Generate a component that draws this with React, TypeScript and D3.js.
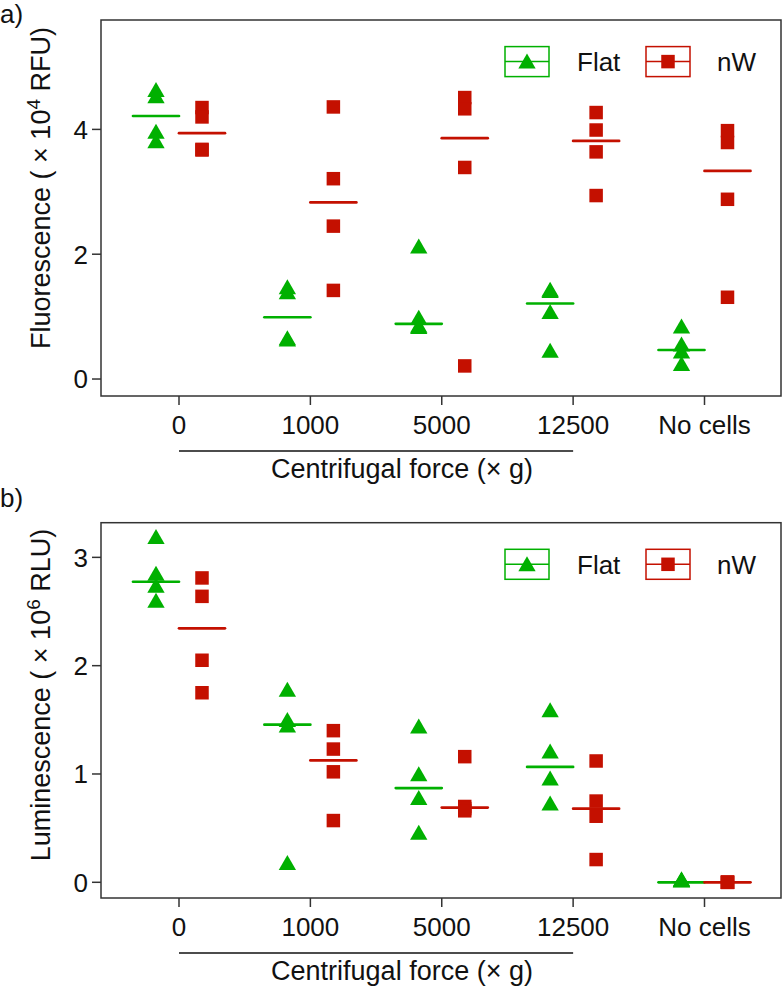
import React from "react";
import * as d3 from "d3";

const categories = ["0", "1000", "5000", "12500", "No cells"];
const seriesNames = ["Flat", "nW"];

// Panel a: Fluorescence (x10^4 RFU), 4 replicates per category
const flatFluor = [
  [4.6, 4.5, 3.93, 3.78],
  [1.44, 1.36, 0.62, 0.6],
  [2.09, 0.95, 0.82, 0.8],
  [1.4, 1.38, 1.04, 0.42],
  [0.81, 0.52, 0.41, 0.21],
];
const nwFluor = [
  [4.35, 4.2, 3.68, 3.67],
  [4.36, 3.21, 2.45, 1.42],
  [4.51, 4.33, 3.39, 0.21],
  [4.27, 3.99, 3.64, 2.94],
  [3.98, 3.79, 2.88, 1.31],
];
// Panel b: Luminescence (x10^6 RLU)
const flatLumin = [
  [3.17, 2.83, 2.72, 2.58],
  [1.76, 1.48, 1.43, 0.16],
  [1.42, 0.98, 0.76, 0.44],
  [1.57, 1.19, 0.94, 0.71],
  [0.01, 0, 0, 0],
];
const nwLumin = [
  [2.81, 2.64, 2.05, 1.75],
  [1.4, 1.23, 1.02, 0.57],
  [1.16, 0.7, 0.68, 0.66],
  [1.12, 0.75, 0.61, 0.21],
  [0, 0, 0, 0],
];

const ticksA = [0, 2, 4];
const ticksB = [0, 1, 2, 3];

const GREEN = "#00b000";
const RED = "#c41000";
const FONT = "'Liberation Sans', Arial, Helvetica, sans-serif";

const X0 = 101;
const X1 = 781;

function Triangle({ x, y, color }: { x: number; y: number; color: string }) {
  const r = 10;
  const hw = r * Math.sqrt(3) / 2;
  return <path d={`M${x},${y - r}L${x + hw},${y + r / 2}L${x - hw},${y + r / 2}Z`} fill={color} />;
}
function Square({ x, y, color }: { x: number; y: number; color: string }) {
  const s = 13.5;
  return <rect x={x - s / 2} y={y - s / 2} width={s} height={s} fill={color} />;
}

function Panel({
  top, bottom, domain, ticks, flat, nw, letter, labelMain, sup, labelEnd, labelCenter,
}: any) {
  const x = d3.scalePoint<string>().domain(categories).range([179, 704.5]);
  const y = d3.scaleLinear().domain(domain).range([bottom, top]);
  const off = 23;
  const halfLine = 23;
  const legY = top + 41.6;
  const items: any[] = [];
  categories.forEach((c, i) => {
    const cx = x(c)!;
    const fm = d3.median(flat[i] as number[])!;
    const nm = d3.median(nw[i] as number[])!;
    items.push(
      <line key={"fm" + i} x1={cx - off - halfLine} x2={cx - off + halfLine} y1={y(fm)} y2={y(fm)} stroke={GREEN} strokeWidth={2.7} strokeLinecap="round" />
    );
    items.push(
      <line key={"nm" + i} x1={cx + off - halfLine} x2={cx + off + halfLine} y1={y(nm)} y2={y(nm)} stroke={RED} strokeWidth={2.7} strokeLinecap="round" />
    );
    (flat[i] as number[]).forEach((v, j) => items.push(<Triangle key={`f${i}-${j}`} x={cx - off} y={y(v)} color={GREEN} />));
    (nw[i] as number[]).forEach((v, j) => items.push(<Square key={`n${i}-${j}`} x={cx + off} y={y(v)} color={RED} />));
  });
  const axisText = { fontFamily: FONT, fontSize: 26, fill: "#111" };
  const titleText = { fontFamily: FONT, fontSize: 27, fill: "#111" };
  return (
    <g>
      <text x={0} y={top + (letter === "a)" ? 3 : -16)} {...axisText}>{letter}</text>
      {items}
      <rect x={X0} y={top} width={X1 - X0} height={bottom - top} fill="none" stroke="#333" strokeWidth={1.5} />
      {ticks.map((t: number) => (
        <g key={t}>
          <line x1={X0 - 9} x2={X0} y1={y(t)} y2={y(t)} stroke="#333" strokeWidth={1.5} />
          <text x={88} y={y(t)} dy="0.36em" textAnchor="end" {...axisText}>{t}</text>
        </g>
      ))}
      {categories.map((c) => (
        <g key={c}>
          <line x1={x(c)} x2={x(c)} y1={bottom} y2={bottom + 9} stroke="#333" strokeWidth={1.5} />
          <text x={x(c)} y={bottom + 38} textAnchor="middle" {...axisText}>{c}</text>
        </g>
      ))}
      <line x1={x("0")} x2={x("12500")} y1={bottom + 55} y2={bottom + 55} stroke="#111" strokeWidth={1.3} />
      <text x={402} y={bottom + 82} textAnchor="middle" {...titleText}>Centrifugal force (× g)</text>
      <text transform={`translate(50,${labelCenter}) rotate(-90)`} textAnchor="middle" {...titleText}>
        {labelMain}
        <tspan dy={-10} fontSize={19}>{sup}</tspan>
        <tspan dy={10}>{labelEnd}</tspan>
      </text>
      {/* legend */}
      {seriesNames.map((s, i) => {
        const bx = i === 0 ? 505 : 646;
        const col = i === 0 ? GREEN : RED;
        return (
          <g key={s}>
            <rect x={bx} y={legY - 15} width={44} height={30} fill="white" stroke={col} strokeWidth={1.5} />
            <line x1={bx} x2={bx + 44} y1={legY} y2={legY} stroke={col} strokeWidth={1.5} />
            {i === 0 ? <Triangle x={bx + 22} y={legY + 2} color={col} /> : <Square x={bx + 22} y={legY} color={col} />}
            <text x={i === 0 ? 577 : 717} y={legY + 9.5} {...axisText}>{s}</text>
          </g>
        );
      })}
    </g>
  );
}

export default function App() {
  return (
    <svg width={784} height={988} style={{ position: "absolute", left: 0, top: 0, background: "white" }}>
      <rect width={784} height={988} fill="white" />
      <Panel top={20} bottom={396} domain={[-0.272, 5.753]} ticks={ticksA} flat={flatFluor} nw={nwFluor}
        letter="a)" labelMain="Fluorescence ( × 10" sup="4" labelEnd=" RFU)" labelCenter={188} />
      <Panel top={522.7} bottom={898} domain={[-0.145, 3.32]} ticks={ticksB} flat={flatLumin} nw={nwLumin}
        letter="b)" labelMain="Luminescence ( × 10" sup="6" labelEnd=" RLU)" labelCenter={695} />
    </svg>
  );
}
